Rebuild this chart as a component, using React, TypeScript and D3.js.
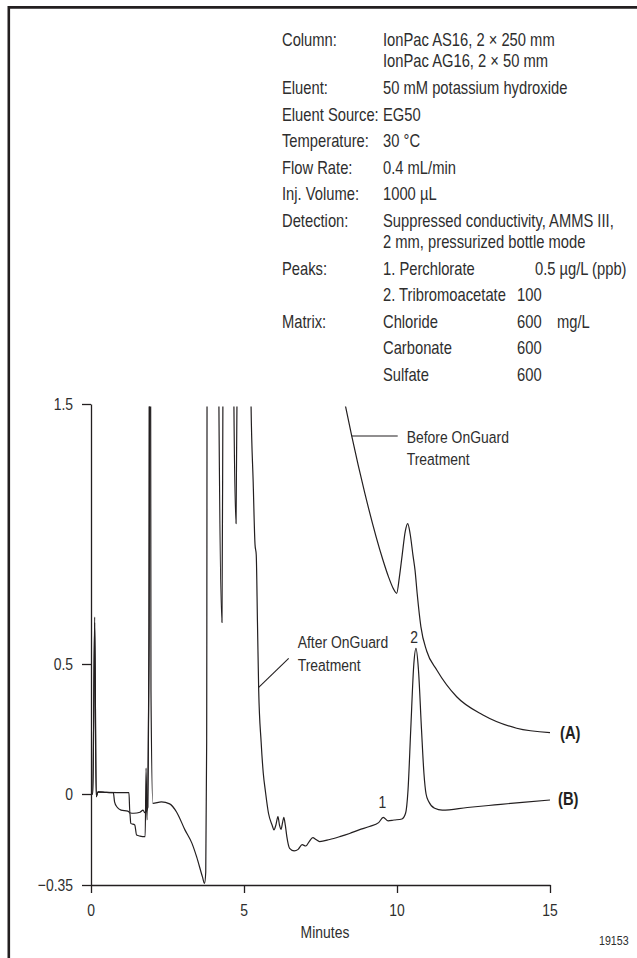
import React, { useEffect, useRef } from "react";
import * as d3 from "d3";

const INK = "#231f20";
const FONT = "'Liberation Sans', Arial, sans-serif";
const NARROW = 0.82; // squeeze Liberation Sans into a condensed face

// method conditions (text block at top right)
const infoLabels = ["Column:", "", "Eluent:", "Eluent Source:", "Temperature:", "Flow Rate:", "Inj. Volume:", "Detection:", "", "Peaks:", "", "Matrix:", "", ""];
const infoValues = [
  "IonPac AS16, 2 \u00d7 250 mm",
  "IonPac AG16, 2 \u00d7 50 mm",
  "50 mM potassium hydroxide",
  "EG50",
  "30 \u00b0C",
  "0.4 mL/min",
  "1000 \u00b5L",
  "Suppressed conductivity, AMMS III,",
  "2 mm, pressurized bottle mode",
  "1. Perchlorate",
  "2. Tribromoacetate",
  "Chloride",
  "Carbonate",
  "Sulfate",
];
const infoWrapped = [false, true, false, false, false, false, false, false, true, false, false, false, false, false];
const infoAmounts = ["", "", "", "", "", "", "", "", "", "0.5 \u00b5g/L (ppb)", "100", "600", "600", "600"];
const infoUnits = ["", "", "", "", "", "", "", "", "", "", "", "mg/L", "", ""];

const xTicks = [0, 5, 10, 15];
const yTicks = [1.5, 0.5, 0, -0.35];
const yTickLabels = ["1.5", "0.5", "0", "\u22120.35"];

// (A) before OnGuard treatment, minutes / µS
const traceA: [number, number][] = [
  [0, 0], [0.06, 0], [0.12, 0.66], [0.17, -0.01], [0.23, 0.008], [0.5, 0.006], [0.73, 0.005],
  [0.77, -0.03], [0.85, -0.05], [0.98, -0.062], [1.2, -0.066], [1.27, -0.074], [1.3, -0.113],
  [1.43, -0.119], [1.49, -0.158], [1.6, -0.162], [1.77, -0.164], [1.8, 0.1], [1.83, -0.1],
  [1.89, 0.5], [1.93, 3.5], [4.1, 3.5], [4.18, 1.5], [4.28, 0.66], [4.31, 1.5], [4.36, 3.5],
  [4.62, 3.5], [4.67, 1.5], [4.74, 1.04], [4.77, 1.5], [4.82, 3.5], [6.9, 3.5], [7.6, 1.98],
  [8.0, 1.68], [8.32, 1.49], [8.52, 1.377], [8.95, 1.156], [9.54, 0.9], [9.72, 0.836],
  [9.88, 0.79], [9.99, 0.772], [10.08, 0.836], [10.17, 0.92], [10.27, 1.01], [10.35, 1.04],
  [10.43, 1.0], [10.52, 0.92], [10.59, 0.86], [10.66, 0.77], [10.78, 0.644], [10.97, 0.55],
  [11.3, 0.477], [11.95, 0.374], [12.81, 0.304], [13.91, 0.253], [15, 0.236],
];

// (B) after OnGuard treatment
const traceB: [number, number][] = [
  [0, 0], [0.06, 0], [0.12, 0.68], [0.17, -0.01], [0.23, 0.008], [0.5, 0.006], [1.24, 0.005],
  [1.27, -0.072], [1.4, -0.074], [1.6, -0.07], [1.7, -0.062], [1.76, -0.072], [1.86, -0.05],
  [1.9, 0.6], [1.93, 3.5], [1.96, 0.4], [2.02, -0.036], [2.3, -0.03], [2.57, -0.038],
  [2.8, -0.07], [3.07, -0.138], [3.3, -0.19], [3.45, -0.241], [3.64, -0.318], [3.71, -0.344],
  [3.75, -0.3], [3.78, 0.2], [3.81, 3.5], [5.1, 3.5], [5.23, 1.5], [5.3, 1.2], [5.36, 0.96],
  [5.4, 0.92], [5.44, 0.66], [5.48, 0.4], [5.56, 0.2], [5.63, 0.08], [5.7, 0.01],
  [5.8, -0.074], [5.92, -0.12], [5.98, -0.138], [6.04, -0.12], [6.11, -0.087], [6.16, -0.12],
  [6.21, -0.136], [6.26, -0.11], [6.3, -0.09], [6.35, -0.12], [6.4, -0.164], [6.49, -0.209],
  [6.64, -0.219], [6.77, -0.213], [6.9, -0.195], [7.02, -0.2], [7.12, -0.185], [7.25, -0.168],
  [7.35, -0.175], [7.47, -0.183], [7.8, -0.175], [8.13, -0.164], [8.45, -0.152], [8.76, -0.138],
  [9.1, -0.125], [9.4, -0.11], [9.55, -0.09], [9.71, -0.103], [9.9, -0.1], [10.16, -0.096],
  [10.28, -0.074], [10.36, 0.015], [10.45, 0.25], [10.55, 0.5], [10.62, 0.56], [10.7, 0.48],
  [10.8, 0.25], [10.88, 0.08], [10.95, 0.0], [11.04, -0.03], [11.23, -0.055], [11.48, -0.062],
  [12.3, -0.052], [13.19, -0.042], [14.1, -0.032], [15, -0.023],
];

const peakNames = ["1", "2"];
const peakTimes = [9.52, 10.56];
const peakLabelValues = [-0.03, 0.604];

export default function App() {
  const ref = useRef<SVGSVGElement | null>(null);

  useEffect(() => {
    const W = 637, H = 958;
    const svg = d3.select(ref.current).attr("width", W).attr("height", H);
    svg.selectAll("*").remove();

    // frame, cut off at right and bottom
    svg.append("path")
      .attr("d", `M8.8,${H + 5}V7.4H${W + 5}`)
      .attr("fill", "none").attr("stroke", INK).attr("stroke-width", 2.6);

    const txt = (x: number, y: number, s: string, opts: any = {}) =>
      svg.append("text")
        .attr("transform", `translate(${x},${y}) scale(${NARROW},1)`)
        .attr("font-family", FONT)
        .attr("font-size", opts.size || 17)
        .attr("font-weight", opts.weight || "normal")
        .attr("text-anchor", opts.anchor || "start")
        .attr("fill", opts.fill || "#2e2e2e")
        .text(s);

    // condition block
    let rowY = 40;
    infoValues.forEach((v, i) => {
      if (i > 0) rowY += infoWrapped[i] ? 21 : 26.6;
      const base = rowY + 6.3;
      if (infoLabels[i]) txt(282, base, infoLabels[i], { size: 18 });
      txt(383, base, v, { size: 18 });
      if (infoAmounts[i]) txt(i === 9 ? 535 : 517, base, infoAmounts[i], { size: 18 });
      if (infoUnits[i]) txt(557, base, infoUnits[i], { size: 18 });
    });

    const x = d3.scaleLinear().domain([0, 15]).range([91, 550]);
    const y = d3.scaleLinear().domain([-0.35, 1.5]).range([885, 404]);

    const yAxis = svg.append("g")
      .attr("transform", `translate(${x(0)},0)`)
      .call(d3.axisLeft(y).tickValues(yTicks).tickSize(9).tickSizeOuter(0).tickFormat(() => ""));
    const xAxis = svg.append("g")
      .attr("transform", `translate(0,${y(-0.35)})`)
      .call(d3.axisBottom(x).tickValues(xTicks).tickSize(8).tickSizeOuter(0).tickFormat(() => ""));
    [yAxis, xAxis].forEach(g => {
      g.attr("color", INK);
      g.selectAll("path, line").attr("stroke-width", 1.3);
    });

    yTicks.forEach((v, i) => txt(x(0) - 18, y(v) + 6, yTickLabels[i], { anchor: "end" }));
    xTicks.forEach(t => txt(x(t), 916, String(t), { anchor: "middle" }));

    txt(325, 938, "Minutes", { anchor: "middle" });
    txt(599, 945, "19153", { size: 13 });

    // traces clipped at the top of the scale
    svg.append("clipPath").attr("id", "plotClip")
      .append("rect")
      .attr("x", x(0)).attr("y", y(1.49))
      .attr("width", x(15) - x(0) + 2).attr("height", y(-0.35) - y(1.49));

    const line = d3.line<[number, number]>()
      .x(d => x(d[0])).y(d => y(d[1]))
      .curve(d3.curveMonotoneX);

    [traceA, traceB].forEach(tr => {
      svg.append("path")
        .datum(tr)
        .attr("clip-path", "url(#plotClip)")
        .attr("d", line)
        .attr("fill", "none")
        .attr("stroke", INK)
        .attr("stroke-width", 1.2)
        .attr("stroke-linejoin", "round");
    });

    // leader lines and trace notes
    const bx = x(8.52), by = y(1.377);
    svg.append("line").attr("x1", bx).attr("y1", by).attr("x2", bx + 46).attr("y2", by)
      .attr("stroke", INK).attr("stroke-width", 1.1);
    txt(bx + 55, by + 7, "Before OnGuard");
    txt(bx + 55, by + 29, "Treatment");

    const ax = x(5.48), ay = y(0.41);
    svg.append("line").attr("x1", ax).attr("y1", ay).attr("x2", ax + 30).attr("y2", ay - 29)
      .attr("stroke", INK).attr("stroke-width", 1.1);
    txt(ax + 39, ay - 39, "After OnGuard");
    txt(ax + 39, ay - 16, "Treatment");

    peakNames.forEach((p, i) => {
      txt(x(peakTimes[i]), y(peakLabelValues[i]) + 6, p, { anchor: "middle" });
    });

    const endA = traceA[traceA.length - 1];
    const endB = traceB[traceB.length - 1];
    txt(x(endA[0]) + 10, y(endA[1]) + 6.5, "(A)", { weight: "bold", size: 18, fill: INK });
    txt(x(endB[0]) + 8, y(endB[1]) + 5, "(B)", { weight: "bold", size: 18, fill: INK });
  }, []);

  return (
    <svg
      ref={ref}
      style={{ position: "absolute", left: 0, top: 0, background: "#fff" }}
    />
  );
}
